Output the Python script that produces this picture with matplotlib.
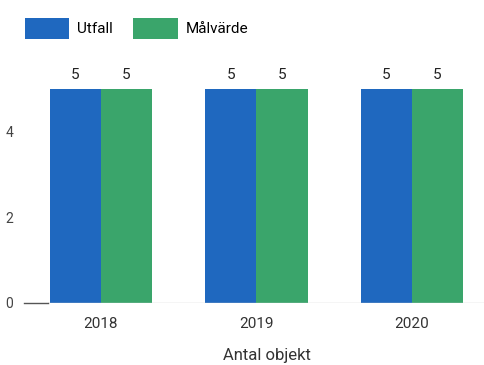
import matplotlib.pyplot as plt
import numpy as np

years = ["2018", "2019", "2020"]
utfall = [5, 5, 5]
malvarde = [5, 5, 5]
series_names = ["Utfall", "Målvärde"]
xlabel = "Antal objekt"
yticks = [0, 2, 4]

plt.rcParams['font.family'] = ['Roboto', 'DejaVu Sans']
W, H = 485, 365
fig = plt.figure(figsize=(W/100, H/100), dpi=100)
left, right, bottom, top = 48, 485, 303, 89
ax = fig.add_axes([left/W, 1-bottom/H, (right-left)/W, (bottom-top)/H])

blue = "#1f68bf"
green = "#3aa56b"
x = np.arange(len(years))
w = 0.33
b1 = ax.bar(x - w/2, utfall, w, color=blue, label=series_names[0])
b2 = ax.bar(x + w/2, malvarde, w, color=green, label=series_names[1])
for bars in (b1, b2):
    ax.bar_label(bars, padding=5, fontsize=11, color="#222222")

ax.set_xlim(-0.34, 2.47)
ax.set_ylim(0, 5)
ax.set_yticks(yticks)
ax.set_yticklabels([str(v) for v in yticks], fontsize=10, color="#444444")
ax.set_xticks(x)
ax.set_xticklabels(years, fontsize=11, color="#333333")
ax.tick_params(axis='both', length=0)
ax.tick_params(axis='y', pad=25)
ax.tick_params(axis='x', pad=10)
for s in ax.spines.values():
    s.set_visible(False)
ax.axhline(0, color="#cccccc", lw=1)
ax.plot([-0.055, 0.0], [0, 0], transform=ax.get_yaxis_transform(), color="#555555", lw=1, clip_on=False)
ax.set_xlabel(xlabel, fontsize=12, color="#333333", labelpad=12)

leg = ax.legend(loc="upper left", frameon=False, ncol=2, fontsize=11,
                handlelength=2.9, handleheight=1.7, handletextpad=0.5,
                columnspacing=1.35, borderpad=0, borderaxespad=0)
leg.set_bbox_to_anchor((25/W, 1 - 18/H), transform=fig.transFigure)

fig.savefig("out.png", dpi=100)
